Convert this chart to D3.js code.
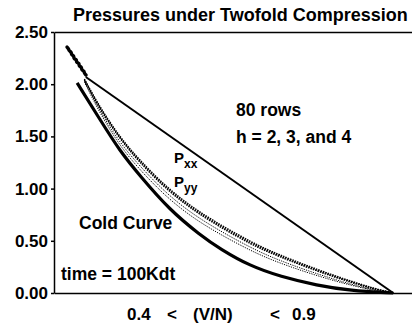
<!DOCTYPE html>
<html>
<head>
<meta charset="utf-8">
<script src="https://cdn.jsdelivr.net/npm/d3@7"></script>
<style>
  body { margin: 0; background: #fff; }
  text { font-family: "Liberation Sans", Arial, sans-serif; font-weight: bold; fill: #000; }
</style>
</head>
<body>
<div id="chart"></div>
<script>
// pressure axis ticks
const yTicks = [0, 0.5, 1.0, 1.5, 2.0, 2.5];

// cold curve (V/N, P)
const coldVol = [0.462, 0.494, 0.521, 0.549, 0.590, 0.632, 0.660, 0.701, 0.743, 0.794, 0.839, 0.899];
const coldP = [2.012, 1.657, 1.360, 1.121, 0.795, 0.556, 0.421, 0.259, 0.158, 0.072, 0.024, 0.0];

// straight (Rayleigh) line
const rayVol = [0.474, 0.899];
const rayP = [2.069, 0.0];

// noisy start of the runs, where all traces overlap
const startVol = [0.4480, 0.4502, 0.4509, 0.4541, 0.4541, 0.4578, 0.4571, 0.4618, 0.4604, 0.4653, 0.4642, 0.4684, 0.4679, 0.4718, 0.4718, 0.4743];
const startP = [2.356, 2.339, 2.319, 2.307, 2.279, 2.274, 2.242, 2.237, 2.208, 2.202, 2.170, 2.167, 2.136, 2.127, 2.105, 2.088];

// Pxx and Pyy for h = 2, 3, 4
const runVol = [0.472, 0.494, 0.521, 0.549, 0.590, 0.632, 0.701, 0.743, 0.812, 0.867, 0.899];
const pxxH2 = [2.050, 1.782, 1.504, 1.274, 0.996, 0.776, 0.498, 0.364, 0.182, 0.057, 0];
const pxxH3 = [2.045, 1.772, 1.494, 1.263, 0.985, 0.764, 0.487, 0.354, 0.174, 0.053, 0];
const pxxH4 = [2.040, 1.763, 1.485, 1.251, 0.973, 0.753, 0.475, 0.345, 0.167, 0.048, 0];
const pyyH2 = [2.031, 1.743, 1.451, 1.217, 0.934, 0.714, 0.441, 0.311, 0.144, 0.038, 0];
const pyyH3 = [2.021, 1.724, 1.422, 1.183, 0.900, 0.680, 0.412, 0.287, 0.129, 0.034, 0];

const width = 412;
const height = 323;

const svg = d3.select('#chart')
  .append('svg')
  .attr('width', width)
  .attr('height', height);

const x = d3.scaleLinear()
  .domain([0.43, 0.925])
  .range([54, 412]);

const y = d3.scaleLinear()
  .domain([0, 2.5])
  .range([293, 32]);

const zip = (xs, ys) => xs.map((v, i) => [v, ys[i]]);

const lineWith = curve => d3.line()
  .x(d => x(d[0]))
  .y(d => y(d[1]))
  .curve(curve);

const basis = lineWith(d3.curveBasis);
const catmull = lineWith(d3.curveCatmullRom.alpha(0.5));
const straight = lineWith(d3.curveLinear);

// frame: left axis with ticks, plain top and bottom lines
const left = svg.append('g')
  .attr('transform', `translate(${x.range()[0]},0)`)
  .call(d3.axisLeft(y)
    .tickValues(yTicks)
    .tickSize(3)
    .tickSizeOuter(0)
    .tickPadding(3)
    .tickFormat(d3.format('.2f')));

left.selectAll('text')
  .style('font-size', '17px')
  .style('font-family', '"Liberation Sans", Arial, sans-serif')
  .style('font-weight', 'bold');
left.selectAll('line, path').attr('stroke-width', 1.5);

svg.append('g')
  .attr('transform', `translate(0,${y(0)})`)
  .call(d3.axisBottom(x).tickValues([]).tickSizeOuter(0))
  .select('.domain').attr('stroke-width', 1.5);

svg.append('g')
  .attr('transform', `translate(0,${y(2.5)})`)
  .call(d3.axisTop(x).tickValues([]).tickSizeOuter(0))
  .select('.domain').attr('stroke-width', 1.5);

// noisy start blob
svg.append('path')
  .attr('d', basis(zip(startVol, startP)))
  .attr('fill', 'none')
  .attr('stroke', '#000')
  .attr('stroke-width', 3.4)
  .attr('stroke-linejoin', 'round')
  .attr('stroke-linecap', 'round');

// straight line
svg.append('path')
  .attr('d', straight(zip(rayVol, rayP)))
  .attr('fill', 'none')
  .attr('stroke', '#000')
  .attr('stroke-width', 2);

// dotted runs: Pxx heavier, Pyy lighter
[pxxH2, pxxH3, pxxH4].forEach(series => {
  svg.append('path')
    .attr('d', catmull(zip(runVol, series)))
    .attr('fill', 'none')
    .attr('stroke', '#000')
    .attr('stroke-width', 1.3)
    .attr('stroke-dasharray', '1.5,1');
});

[pyyH2, pyyH3].forEach(series => {
  svg.append('path')
    .attr('d', catmull(zip(runVol, series)))
    .attr('fill', 'none')
    .attr('stroke', '#000')
    .attr('stroke-width', 1)
    .attr('stroke-dasharray', '1.2,1.2');
});

// cold curve
svg.append('path')
  .attr('d', basis(zip(coldVol, coldP)))
  .attr('fill', 'none')
  .attr('stroke', '#000')
  .attr('stroke-width', 3.2);

// texts
svg.append('text')
  .attr('x', 73).attr('y', 21)
  .style('font-size', '18px')
  .text('Pressures under Twofold Compression');

svg.append('text')
  .attr('x', 236).attr('y', 116)
  .style('font-size', '17.5px')
  .text('80 rows');

svg.append('text')
  .attr('x', 236).attr('y', 143)
  .style('font-size', '17.5px')
  .text('h = 2, 3, and 4');

svg.append('text')
  .attr('x', 79).attr('y', 229)
  .style('font-size', '17.5px')
  .text('Cold Curve');

svg.append('text')
  .attr('x', 61).attr('y', 280)
  .style('font-size', '17.5px')
  .text('time = 100Kdt');

const pxx = svg.append('text')
  .attr('x', 174).attr('y', 163)
  .style('font-size', '15px');
pxx.append('tspan').text('P');
pxx.append('tspan').attr('dy', 5).style('font-size', '12px').text('xx');

const pyy = svg.append('text')
  .attr('x', 174).attr('y', 187)
  .style('font-size', '15px');
pyy.append('tspan').text('P');
pyy.append('tspan').attr('dy', 5).style('font-size', '12px').text('yy');

// x label pieces
const xLabel = [['0.4', 127], ['<', 167], ['(V/N)', 193], ['<', 270], ['0.9', 292]];
xLabel.forEach(([t, px]) => {
  svg.append('text')
    .attr('x', px).attr('y', 320)
    .style('font-size', '17px')
    .text(t);
});
</script>
</body>
</html>
